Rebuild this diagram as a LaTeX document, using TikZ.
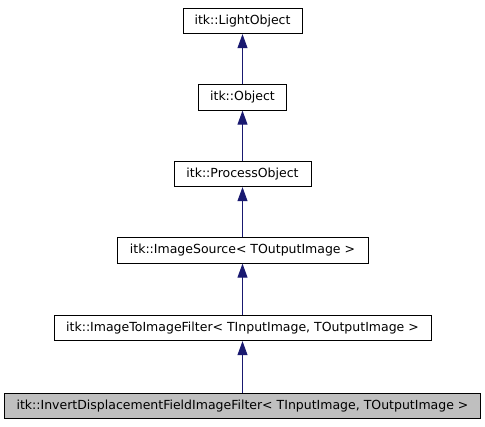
\documentclass[tikz,border=0pt]{standalone}
\usepackage{fontspec}
\setmainfont{DejaVu Sans}
\usetikzlibrary{arrows.meta, positioning}
\definecolor{edgeblue}{HTML}{191970}
\definecolor{boxgray}{HTML}{BFBFBF}

\begin{document}
\begin{tikzpicture}[x=1pt, y=-1pt, font=\fontsize{12.5}{14}\selectfont,
    cls/.style={draw, line width=0.8pt, minimum height=25.5pt, inner sep=0pt},
    inherit/.style={draw=edgeblue, line width=0.9pt, -{Triangle[width=10pt, length=14pt]}, edgeblue}]
  \useasboundingbox (0,0) rectangle (485,427);

  \node[cls, minimum width=119pt] at (242.5, 21) (lightobject) {itk::LightObject};
  \node[cls, minimum width=88pt] at (242.5, 97.5) (object) {itk::Object};
  \node[cls, minimum width=137pt] at (242.5, 174) (processobject) {itk::ProcessObject};
  \node[cls, minimum width=251pt] at (242.5, 250.5) (imagesource) {itk::ImageSource< TOutputImage >};
  \node[cls, minimum width=377pt] at (242.5, 328) (imagetoimage) {itk::ImageToImageFilter< TInputImage, TOutputImage >};
  \node[cls, fill=boxgray, minimum width=476pt] at (242.5, 406) (invertfilter) {itk::InvertDisplacementFieldImageFilter< TInputImage, TOutputImage >};

  \draw[inherit] (object) -- (lightobject);
  \draw[inherit] (processobject) -- (object);
  \draw[inherit] (imagesource) -- (processobject);
  \draw[inherit] (imagetoimage) -- (imagesource);
  \draw[inherit] (invertfilter) -- (imagetoimage);
\end{tikzpicture}
\end{document}
